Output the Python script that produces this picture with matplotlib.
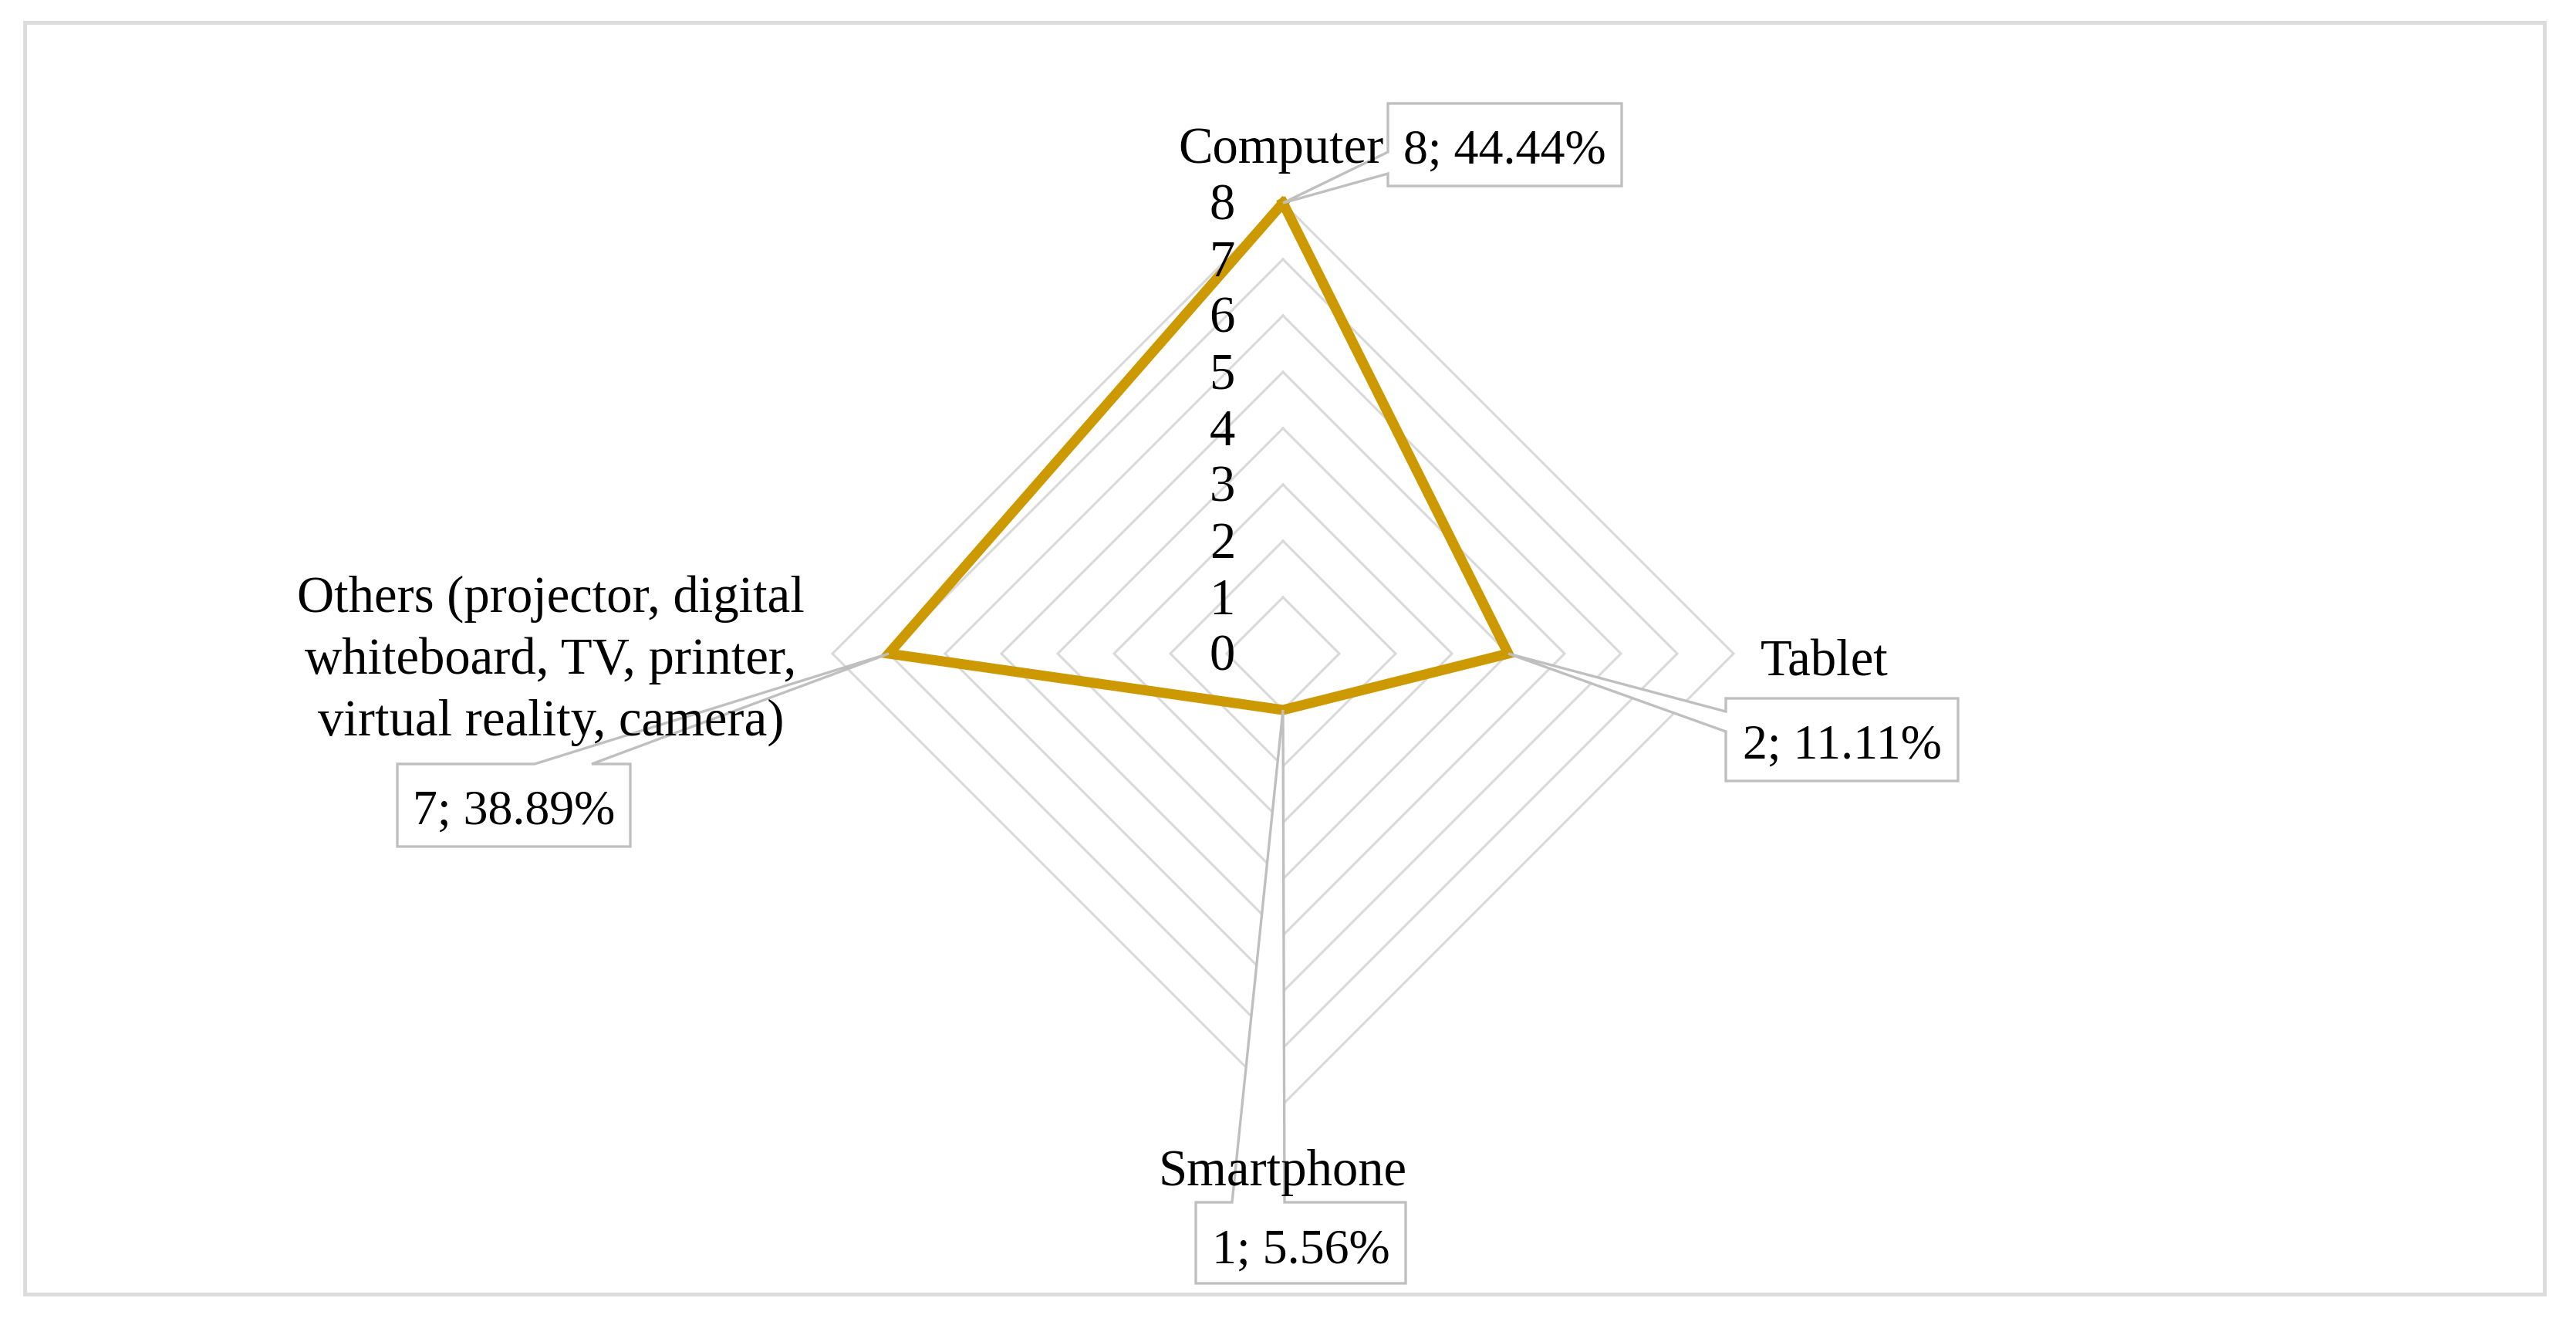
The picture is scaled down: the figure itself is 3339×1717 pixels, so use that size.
import matplotlib
matplotlib.use("Agg")
import matplotlib.pyplot as plt
from matplotlib.patches import Rectangle, Polygon
from matplotlib.transforms import IdentityTransform
import numpy as np

W, H, DPI = 3339, 1717, 200

# ---- data ----
categories = ["Computer", "Tablet", "Smartphone",
              "Others (projector, digital\nwhiteboard, TV, printer,\nvirtual reality, camera)"]
plotted_values = [8, 4, 1, 7]          # vertex positions as drawn in the reference
label_counts = [8, 2, 1, 7]            # counts written in the data labels
label_pcts = ["44.44%", "11.11%", "5.56%", "38.89%"]
r_ticks = [0, 1, 2, 3, 4, 5, 6, 7, 8]

# ---- styling / layout ----
FONT = ["Liberation Serif", "DejaVu Serif"]
FS = 24
FS_NUM = 23
GRID_C = "#D9D9D9"
LINE_C = "#CC9900"
BOX_EC = "#BFBFBF"

cx, cy, u = 1663, 847, 73.0   # radar centre (px) and px per unit

fig = plt.figure(figsize=(W / DPI, H / DPI), dpi=DPI)
ax = fig.add_axes([0, 0, 1, 1])
ax.set_xlim(-cx / u, (W - cx) / u)
ax.set_ylim(-(H - cy) / u, cy / u)
ax.axis("off")

n = len(categories)
angles = np.arange(n) * 2 * np.pi / n
sx, sy = np.sin(angles), np.cos(angles)

# grid rings
for r in r_ticks[1:]:
    gx = np.append(r * sx, r * sx[0])
    gy = np.append(r * sy, r * sy[0])
    ax.plot(gx, gy, color=GRID_C, lw=1.1, zorder=1, solid_joinstyle="miter")

# data polygon
vals = np.array(plotted_values, dtype=float)
px = np.append(vals * sx, vals[0] * sx[0])
py = np.append(vals * sy, vals[0] * sy[0])
ax.plot(px, py, color=LINE_C, lw=4.7, zorder=3, solid_joinstyle="miter")

# radial tick labels (digit visually centred on ring level)
for r in r_ticks:
    ax.text(-0.85, r - 0.3, str(r), ha="right", va="baseline", fontsize=FS,
            family=FONT, zorder=8)

# category labels (layout positions in px from top-left)
cat_pos = [(1660, 211, "baseline"),
           (2365, 875, "baseline"),
           (1663, 1536, "baseline"),
           (714, 856, "center")]
for lab, (x, y, va) in zip(categories, cat_pos):
    fig.text(x / W, 1 - y / H, lab, ha="center", va=va, fontsize=FS, family=FONT,
             multialignment="center", linespacing=1.38, zorder=8)

# data-label callouts: box (x0, y0, x1, y1) in px from top-left,
# edge the pointer leaves from, and pointer base span along that edge
boxes = [(1799, 134, 2102, 241), (2237, 905, 2538, 1012),
         (1550, 1558, 1822, 1663), (515, 990, 817, 1097)]
edges = ["left", "left", "top", "top"]
bases = [(197, 225), (922, 948), (1597, 1665), (693, 767)]
baselines = [212, 983, 1637, 1068]

for i in range(n):
    x0, y0, x1, y1 = boxes[i]
    a, b = bases[i]
    pdx, pdy = ax.transData.transform((vals[i] * sx[i], vals[i] * sy[i]))
    P = (pdx, H - pdy)   # data point in px from top-left
    if edges[i] == "top":
        verts = [(x0, y0), (a, y0), P, (b, y0), (x1, y0), (x1, y1), (x0, y1)]
    else:  # left
        verts = [(x0, y0), (x1, y0), (x1, y1), (x0, y1), (x0, b), P, (x0, a)]
    verts = [(vx, H - vy) for vx, vy in verts]
    fig.add_artist(Polygon(verts, closed=True, fc="white", ec=BOX_EC, lw=1.2,
                           joinstyle="miter", transform=IdentityTransform(),
                           zorder=4))
    fig.text((x0 + x1) / 2 / W, 1 - baselines[i] / H,
             f"{label_counts[i]}; {label_pcts[i]}", ha="center", va="baseline",
             fontsize=FS_NUM, family=FONT, zorder=6)

# outer frame
fig.add_artist(Rectangle((32 / W, 1 - 1677 / H), (3298 - 32) / W, (1677 - 29) / H,
                         transform=fig.transFigure, fill=False,
                         ec="#DCDCDC", lw=1.8, zorder=0))

fig.savefig("out.png", dpi=DPI, facecolor="white")
